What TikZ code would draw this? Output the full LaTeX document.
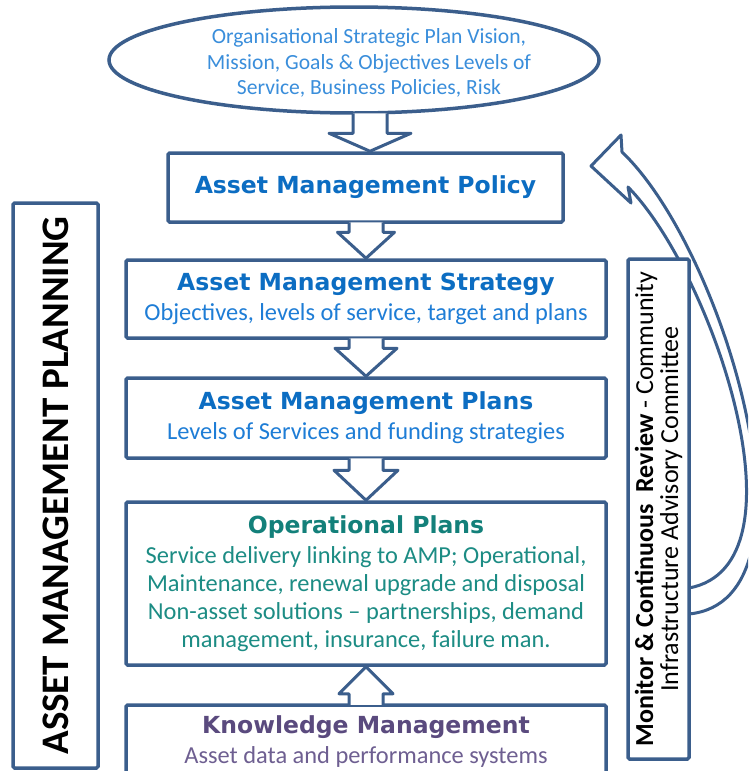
\documentclass[tikz,border=0pt]{standalone}
\usepackage{fontspec}
\setmainfont{Carlito}
\newfontfamily\headfont{DejaVu Sans}
\usetikzlibrary{calc,shapes.geometric}
\definecolor{boxblue}{HTML}{3B5E8C}
\definecolor{headblue}{HTML}{0C6DC2}
\definecolor{subblue}{HTML}{1E7DD6}
\definecolor{ellblue}{HTML}{3A8EDB}
\definecolor{opteal}{HTML}{13807A}
\definecolor{optext}{HTML}{1C8C84}
\definecolor{kmpurple}{HTML}{5A4A7E}
\definecolor{kmtext}{HTML}{6E5F91}
\newcommand{\hd}{\fontsize{23.5}{30}\headfont\bfseries}
% #1 upper node, #2 lower node, #3 shaft half, #4 head half, #5 head length, #6 x offset
\newcommand{\arrdown}[6]{%
  \draw[barrow] let \p1=(#1.south), \p2=(#2.north) in
   (\x2+#6-#3,\y1+1.5pt) -- (\x2+#6-#3,\y2+#5) -- (\x2+#6-#4,\y2+#5) -- (\x2+#6,\y2)
   -- (\x2+#6+#4,\y2+#5) -- (\x2+#6+#3,\y2+#5) -- (\x2+#6+#3,\y1+1.5pt);}
% #1 lower node, #2 upper node
\newcommand{\arrup}[6]{%
  \draw[barrow] let \p1=(#1.north), \p2=(#2.south) in
   (\x2+#6-#3,\y1-1.5pt) -- (\x2+#6-#3,\y2-#5) -- (\x2+#6-#4,\y2-#5) -- (\x2+#6,\y2)
   -- (\x2+#6+#4,\y2-#5) -- (\x2+#6+#3,\y2-#5) -- (\x2+#6+#3,\y1-1.5pt);}
\tikzset{
  box/.style={draw=boxblue, line width=3.5pt, rounded corners=1.5pt, fill=white,
    inner sep=0pt, align=center},
  barrow/.style={draw=boxblue, line width=3pt, fill=white, line join=round},
}
\begin{document}
\begin{tikzpicture}[x=1pt,y=-1pt]
\path[use as bounding box] (0,0) rectangle (748,771);
\clip (0,0) rectangle (748,771);
\fill[white] (0,0) rectangle (748,771);

% top ellipse
\node[draw=boxblue, line width=3.5pt, ellipse, fill=white, minimum width=490pt,
  minimum height=106pt, inner sep=0pt] (org) at (354,60) {};
\node[align=center, text=ellblue, inner sep=0pt,
  font=\fontsize{21.6}{25.5}\selectfont] (orgtext) at (369,63)
  {Organisational Strategic Plan Vision,\\Mission, Goals \& Objectives Levels of\\Service, Business Policies, Risk};

% main boxes
\node[box, minimum width=395pt, minimum height=69pt, text=headblue] (pol) at (365.5,187.5)
  {\hd Asset Management Policy};

\node[box, minimum width=480pt, minimum height=78pt, text=headblue,
  font=\fontsize{24.4}{30}\selectfont] (str) at (366,299)
  {{\hd Asset Management Strategy}\\{\color{subblue}Objectives, levels of service, target and plans}};

\node[box, minimum width=480pt, minimum height=80pt, text=headblue,
  font=\fontsize{24.4}{30}\selectfont] (pla) at (366,418)
  {{\hd Asset Management Plans}\\{\color{subblue}Levels of Services and funding strategies}};

\node[box, minimum width=480pt, minimum height=163pt, text=optext,
  font=\fontsize{24.4}{28}\selectfont] (op) at (366,583.5)
  {{\hd\color{opteal}Operational Plans}\\[2pt]
   Service delivery linking to AMP; Operational,\\
   Maintenance, renewal upgrade and disposal\\
   Non-asset solutions -- partnerships, demand\\
   management, insurance, failure man.};

\node[box, minimum width=480pt, minimum height=74pt, text=kmtext,
  font=\fontsize{24.4}{30}\selectfont] (km) at (366,742)
  {{\hd\color{kmpurple}Knowledge Management}\\Asset data and performance systems};

% block arrows
\arrdown{org}{pol}{17pt}{41pt}{18pt}{4.5pt}
\arrdown{pol}{str}{17pt}{28.5pt}{26pt}{0pt}
\arrdown{str}{pla}{17pt}{31pt}{28pt}{0pt}
\arrdown{pla}{op}{17pt}{32pt}{30pt}{0pt}
\arrup{km}{op}{17pt}{27pt}{27pt}{0pt}

% left vertical box
\node[box, rotate=90, minimum width=565pt, minimum height=85pt,
  font=\fontsize{39}{40}\selectfont\bfseries] (amp) at (55.5,485.5)
  {ASSET MANAGEMENT PLANNING};

% curved feedback arrow
\coordinate (cfA) at (689,588);
\coordinate (cfB) at (689,614);
\draw[barrow] (cfA) .. controls (812,565) and (712,272) .. (628,187)
  -- (631,203) -- (591,166) -- (621,135) -- (622,152)
  .. controls (725,250) and (828,600) .. (cfB);

% right vertical box
\node[box, rotate=90, minimum width=500pt, minimum height=61pt,
  font=\fontsize{26}{25}\selectfont] (mon) at (658.5,509)
  {{\bfseries Monitor \& Continuous\ \ Review} - Community\\Infrastructure Advisory Committee};
\end{tikzpicture}
\end{document}
